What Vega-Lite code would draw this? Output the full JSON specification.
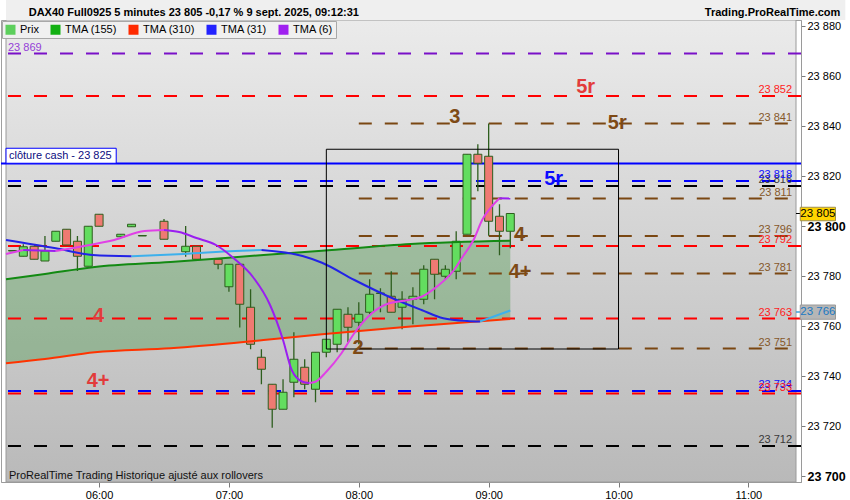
{
  "$schema": "https://vega.github.io/schema/vega-lite/v6.json",
  "width": 800,
  "height": 462,
  "padding": 0,
  "background": "#ffffff",
  "config": {
    "font": "Liberation Sans",
    "view": {"stroke": "#a0a0a0"},
    "axis": {"title": null, "grid": false, "labelFont": "Liberation Sans", "labelColor": "#000000", "domainColor": "#9a9a9a", "tickColor": "#7a7a7a"}
  },
  "datasets": {
    "bougies": [
      {"t": "2025-09-09T05:20", "o": 23790.2, "h": 23790.2, "l": 23790.0, "c": 23790.0},
      {"t": "2025-09-09T05:25", "o": 23787.9, "h": 23792.7, "l": 23787.9, "c": 23791.7},
      {"t": "2025-09-09T05:30", "o": 23791.9, "h": 23791.9, "l": 23786.7, "c": 23786.7},
      {"t": "2025-09-09T05:35", "o": 23786.0, "h": 23796.0, "l": 23786.0, "c": 23790.0},
      {"t": "2025-09-09T05:40", "o": 23793.9, "h": 23797.9, "l": 23793.9, "c": 23797.9},
      {"t": "2025-09-09T05:45", "o": 23798.7, "h": 23798.7, "l": 23792.4, "c": 23792.4},
      {"t": "2025-09-09T05:50", "o": 23793.9, "h": 23796.0, "l": 23782.0, "c": 23787.9},
      {"t": "2025-09-09T05:55", "o": 23783.9, "h": 23799.9, "l": 23783.9, "c": 23799.9},
      {"t": "2025-09-09T06:00", "o": 23804.7, "h": 23804.7, "l": 23799.9, "c": 23799.9},
      {"t": "2025-09-09T06:10", "o": 23795.7, "h": 23796.7, "l": 23795.7, "c": 23796.7},
      {"t": "2025-09-09T06:15", "o": 23799.7, "h": 23800.7, "l": 23799.7, "c": 23800.7},
      {"t": "2025-09-09T06:20", "o": 23796.2, "h": 23796.2, "l": 23796.0, "c": 23796.0},
      {"t": "2025-09-09T06:30", "o": 23801.9, "h": 23802.8, "l": 23794.7, "c": 23794.7},
      {"t": "2025-09-09T06:40", "o": 23789.7, "h": 23800.0, "l": 23787.7, "c": 23791.9},
      {"t": "2025-09-09T06:45", "o": 23791.9, "h": 23791.9, "l": 23786.7, "c": 23786.7},
      {"t": "2025-09-09T06:55", "o": 23786.7, "h": 23786.7, "l": 23782.7, "c": 23784.7},
      {"t": "2025-09-09T07:00", "o": 23775.7, "h": 23784.7, "l": 23773.7, "c": 23784.7},
      {"t": "2025-09-09T07:05", "o": 23784.7, "h": 23784.7, "l": 23759.4, "c": 23768.7},
      {"t": "2025-09-09T07:10", "o": 23767.5, "h": 23774.7, "l": 23750.7, "c": 23752.7},
      {"t": "2025-09-09T07:15", "o": 23747.5, "h": 23750.7, "l": 23736.7, "c": 23742.7},
      {"t": "2025-09-09T07:20", "o": 23736.7, "h": 23736.7, "l": 23719.3, "c": 23726.7},
      {"t": "2025-09-09T07:25", "o": 23726.7, "h": 23738.7, "l": 23726.7, "c": 23733.5},
      {"t": "2025-09-09T07:30", "o": 23737.5, "h": 23757.5, "l": 23731.5, "c": 23746.7},
      {"t": "2025-09-09T07:35", "o": 23743.5, "h": 23746.7, "l": 23734.7, "c": 23736.7},
      {"t": "2025-09-09T07:40", "o": 23734.7, "h": 23749.5, "l": 23729.5, "c": 23749.5},
      {"t": "2025-09-09T07:45", "o": 23749.5, "h": 23754.7, "l": 23747.5, "c": 23754.7},
      {"t": "2025-09-09T07:50", "o": 23752.7, "h": 23766.7, "l": 23749.5, "c": 23766.7},
      {"t": "2025-09-09T07:55", "o": 23764.7, "h": 23767.5, "l": 23753.5, "c": 23759.5},
      {"t": "2025-09-09T08:00", "o": 23761.5, "h": 23769.5, "l": 23752.7, "c": 23764.7},
      {"t": "2025-09-09T08:05", "o": 23765.5, "h": 23778.7, "l": 23764.7, "c": 23772.7},
      {"t": "2025-09-09T08:10", "o": 23773.2, "h": 23775.1, "l": 23765.5, "c": 23773.0},
      {"t": "2025-09-09T08:15", "o": 23771.9, "h": 23781.9, "l": 23765.5, "c": 23765.5},
      {"t": "2025-09-09T08:20", "o": 23767.5, "h": 23773.9, "l": 23758.7, "c": 23770.7},
      {"t": "2025-09-09T08:25", "o": 23770.7, "h": 23775.5, "l": 23760.7, "c": 23771.9},
      {"t": "2025-09-09T08:30", "o": 23770.7, "h": 23784.3, "l": 23768.7, "c": 23782.7},
      {"t": "2025-09-09T08:35", "o": 23786.7, "h": 23786.7, "l": 23770.7, "c": 23780.7},
      {"t": "2025-09-09T08:40", "o": 23779.9, "h": 23784.3, "l": 23778.7, "c": 23782.7},
      {"t": "2025-09-09T08:45", "o": 23781.9, "h": 23797.9, "l": 23778.7, "c": 23793.9},
      {"t": "2025-09-09T08:50", "o": 23796.7, "h": 23828.7, "l": 23796.7, "c": 23828.7},
      {"t": "2025-09-09T08:55", "o": 23828.7, "h": 23832.7, "l": 23813.9, "c": 23825.1},
      {"t": "2025-09-09T09:00", "o": 23827.9, "h": 23841.0, "l": 23796.1, "c": 23801.9},
      {"t": "2025-09-09T09:05", "o": 23803.9, "h": 23808.7, "l": 23788.3, "c": 23797.9},
      {"t": "2025-09-09T09:10", "o": 23797.9, "h": 23805.0, "l": 23791.1, "c": 23805.0}
    ],
    "moy": [
      {"t": "2025-09-09T05:17", "m155": 23778.7, "m310": 23745.1},
      {"t": "2025-09-09T05:35", "m155": 23780.8, "m310": 23746.8},
      {"t": "2025-09-09T05:58", "m155": 23783.6, "m310": 23749.5},
      {"t": "2025-09-09T06:33", "m155": 23785.6, "m310": 23751.1},
      {"t": "2025-09-09T07:16", "m155": 23788.4, "m310": 23754.4},
      {"t": "2025-09-09T07:43", "m155": 23790.1, "m310": 23756.7},
      {"t": "2025-09-09T08:24", "m155": 23792.8, "m310": 23759.8},
      {"t": "2025-09-09T09:10", "m155": 23794.1, "m310": 23762.8}
    ],
    "m31": [
      {"t": "2025-09-09T05:17", "v": 23794.4, "seg": "a", "sens": "baisse"},
      {"t": "2025-09-09T05:40", "v": 23791.1, "seg": "a", "sens": "baisse"},
      {"t": "2025-09-09T05:57", "v": 23788.4, "seg": "a", "sens": "baisse"},
      {"t": "2025-09-09T06:15", "v": 23787.9, "seg": "a", "sens": "baisse"},
      {"t": "2025-09-09T06:15", "v": 23787.9, "seg": "b", "sens": "hausse"},
      {"t": "2025-09-09T06:39", "v": 23788.8, "seg": "b", "sens": "hausse"},
      {"t": "2025-09-09T07:03", "v": 23790.0, "seg": "b", "sens": "hausse"},
      {"t": "2025-09-09T07:15", "v": 23790.4, "seg": "b", "sens": "hausse"},
      {"t": "2025-09-09T07:15", "v": 23790.4, "seg": "c", "sens": "baisse"},
      {"t": "2025-09-09T07:34", "v": 23788.0, "seg": "c", "sens": "baisse"},
      {"t": "2025-09-09T07:43", "v": 23785.3, "seg": "c", "sens": "baisse"},
      {"t": "2025-09-09T07:58", "v": 23778.4, "seg": "c", "sens": "baisse"},
      {"t": "2025-09-09T08:14", "v": 23771.7, "seg": "c", "sens": "baisse"},
      {"t": "2025-09-09T08:29", "v": 23766.4, "seg": "c", "sens": "baisse"},
      {"t": "2025-09-09T08:39", "v": 23763.1, "seg": "c", "sens": "baisse"},
      {"t": "2025-09-09T08:50", "v": 23762.0, "seg": "c", "sens": "baisse"},
      {"t": "2025-09-09T08:56", "v": 23761.8, "seg": "c", "sens": "baisse"},
      {"t": "2025-09-09T08:56", "v": 23761.8, "seg": "d", "sens": "hausse"},
      {"t": "2025-09-09T09:10", "v": 23766.2, "seg": "d", "sens": "hausse"}
    ],
    "m6": [
      {"t": "2025-09-09T05:17", "v": 23788.8, "seg": "a", "sens": "hausse"},
      {"t": "2025-09-09T05:25", "v": 23790.4, "seg": "a", "sens": "hausse"},
      {"t": "2025-09-09T05:25", "v": 23790.4, "seg": "b", "sens": "baisse"},
      {"t": "2025-09-09T05:40", "v": 23790.0, "seg": "b", "sens": "baisse"},
      {"t": "2025-09-09T05:40", "v": 23790.0, "seg": "c", "sens": "hausse"},
      {"t": "2025-09-09T05:53", "v": 23792.0, "seg": "c", "sens": "hausse"},
      {"t": "2025-09-09T06:07", "v": 23794.4, "seg": "c", "sens": "hausse"},
      {"t": "2025-09-09T06:21", "v": 23798.0, "seg": "c", "sens": "hausse"},
      {"t": "2025-09-09T06:30", "v": 23798.4, "seg": "c", "sens": "hausse"},
      {"t": "2025-09-09T06:30", "v": 23798.4, "seg": "d", "sens": "baisse"},
      {"t": "2025-09-09T06:37", "v": 23797.6, "seg": "d", "sens": "baisse"},
      {"t": "2025-09-09T06:45", "v": 23795.2, "seg": "d", "sens": "baisse"},
      {"t": "2025-09-09T06:54", "v": 23792.4, "seg": "d", "sens": "baisse"},
      {"t": "2025-09-09T07:03", "v": 23786.5, "seg": "d", "sens": "baisse"},
      {"t": "2025-09-09T07:11", "v": 23779.7, "seg": "d", "sens": "baisse"},
      {"t": "2025-09-09T07:19", "v": 23768.4, "seg": "d", "sens": "baisse"},
      {"t": "2025-09-09T07:25", "v": 23754.4, "seg": "d", "sens": "baisse"},
      {"t": "2025-09-09T07:29", "v": 23742.4, "seg": "d", "sens": "baisse"},
      {"t": "2025-09-09T07:34", "v": 23737.7, "seg": "d", "sens": "baisse"},
      {"t": "2025-09-09T07:37", "v": 23737.2, "seg": "d", "sens": "baisse"},
      {"t": "2025-09-09T07:37", "v": 23737.2, "seg": "e", "sens": "hausse"},
      {"t": "2025-09-09T07:40", "v": 23737.7, "seg": "e", "sens": "hausse"},
      {"t": "2025-09-09T07:45", "v": 23741.7, "seg": "e", "sens": "hausse"},
      {"t": "2025-09-09T07:52", "v": 23749.1, "seg": "e", "sens": "hausse"},
      {"t": "2025-09-09T07:58", "v": 23757.2, "seg": "e", "sens": "hausse"},
      {"t": "2025-09-09T08:06", "v": 23765.1, "seg": "e", "sens": "hausse"},
      {"t": "2025-09-09T08:14", "v": 23769.1, "seg": "e", "sens": "hausse"},
      {"t": "2025-09-09T08:23", "v": 23770.4, "seg": "e", "sens": "hausse"},
      {"t": "2025-09-09T08:29", "v": 23771.7, "seg": "e", "sens": "hausse"},
      {"t": "2025-09-09T08:36", "v": 23775.7, "seg": "e", "sens": "hausse"},
      {"t": "2025-09-09T08:44", "v": 23782.4, "seg": "e", "sens": "hausse"},
      {"t": "2025-09-09T08:48", "v": 23787.7, "seg": "e", "sens": "hausse"},
      {"t": "2025-09-09T08:53", "v": 23794.4, "seg": "e", "sens": "hausse"},
      {"t": "2025-09-09T08:57", "v": 23802.4, "seg": "e", "sens": "hausse"},
      {"t": "2025-09-09T09:02", "v": 23808.4, "seg": "e", "sens": "hausse"},
      {"t": "2025-09-09T09:05", "v": 23811.1, "seg": "e", "sens": "hausse"},
      {"t": "2025-09-09T09:05", "v": 23811.1, "seg": "f", "sens": "baisse"},
      {"t": "2025-09-09T09:10", "v": 23811.0, "seg": "f", "sens": "baisse"}
    ],
    "niveaux": [
      {"p": 23869, "serie": "violet"},
      {"p": 23852, "serie": "rouge"},
      {"p": 23841, "serie": "brun"},
      {"p": 23816, "serie": "noir"},
      {"p": 23818, "serie": "bleu"},
      {"p": 23811, "serie": "brun"},
      {"p": 23796, "serie": "brun"},
      {"p": 23792, "serie": "rouge"},
      {"p": 23781, "serie": "brun"},
      {"p": 23763, "serie": "rouge"},
      {"p": 23751, "serie": "brun"},
      {"p": 23734, "serie": "bleu"},
      {"p": 23733, "serie": "rouge"},
      {"p": 23712, "serie": "noir"}
    ],
    "notes": [
      {"t": "2025-09-09T09:44:48", "p": 23855.6, "label": "5r", "serie": "rouge"},
      {"t": "2025-09-09T08:44:20", "p": 23843.7, "label": "3", "serie": "brun"},
      {"t": "2025-09-09T09:59:24", "p": 23841.2, "label": "5r", "serie": "brun"},
      {"t": "2025-09-09T09:30:00", "p": 23818.8, "label": "5r", "serie": "bleu"},
      {"t": "2025-09-09T09:14:14", "p": 23796.4, "label": "4", "serie": "brun"},
      {"t": "2025-09-09T09:14:30", "p": 23781.7, "label": "4+", "serie": "brun"},
      {"t": "2025-09-09T07:59:43", "p": 23751.1, "label": "2", "serie": "brun"},
      {"t": "2025-09-09T05:59:44", "p": 23763.9, "label": "4", "serie": "rouge"},
      {"t": "2025-09-09T05:59:33", "p": 23738.2, "label": "4+", "serie": "rouge"}
    ],
    "legende": [
      {"nom": "Prix"}, {"nom": "TMA (155)"}, {"nom": "TMA (310)"}, {"nom": "TMA (31)"}, {"nom": "TMA (6)"}
    ]
  },
  "resolve": {"scale": {"color": "independent"}},
  "layer": [
    {
      "data": {"values": [{}]},
      "mark": {"type": "rect", "stroke": "#9a9a9a", "strokeWidth": 1, "color": {"gradient": "linear", "x1": 0, "y1": 0, "x2": 0, "y2": 1, "stops": [{"offset": 0, "color": "#ebebeb"}, {"offset": 1, "color": "#b9b9b9"}]}},
      "encoding": {
        "x": {
          "datum": {"year": 2025, "month": 9, "date": 9, "hours": 5, "minutes": 17},
          "type": "temporal",
          "scale": {"domain": [{"year": 2025, "month": 9, "date": 9, "hours": 5, "minutes": 17}, {"year": 2025, "month": 9, "date": 9, "hours": 11, "minutes": 22}], "nice": false},
          "axis": {
            "orient": "bottom",
            "values": [
              {"year": 2025, "month": 9, "date": 9, "hours": 6, "minutes": 0},
              {"year": 2025, "month": 9, "date": 9, "hours": 7, "minutes": 0},
              {"year": 2025, "month": 9, "date": 9, "hours": 8, "minutes": 0},
              {"year": 2025, "month": 9, "date": 9, "hours": 9, "minutes": 0},
              {"year": 2025, "month": 9, "date": 9, "hours": 10, "minutes": 0},
              {"year": 2025, "month": 9, "date": 9, "hours": 11, "minutes": 0}
            ],
            "format": "%H:%M",
            "labelFontSize": 11,
            "tickSize": 5,
            "labelPadding": 2
          }
        },
        "x2": {"datum": {"year": 2025, "month": 9, "date": 9, "hours": 11, "minutes": 22}},
        "y": {
          "datum": 23697.6,
          "type": "quantitative",
          "scale": {"domain": [23697.6, 23882.4], "nice": false, "zero": false},
          "axis": {
            "orient": "right",
            "values": [23700, 23710, 23720, 23730, 23740, 23750, 23760, 23770, 23780, 23790, 23800, 23810, 23820, 23830, 23840, 23850, 23860, 23870, 23880],
            "labelExpr": "datum.value % 20 === 0 ? replace(format(datum.value, ','), ',', ' ') : ''",
            "labelFontSize": {"condition": {"test": "datum.value % 100 === 0", "value": 12.5}, "value": 11},
            "labelFontWeight": {"condition": {"test": "datum.value % 100 === 0", "value": "bold"}, "value": "normal"},
            "labelOverlap": false,
            "tickSize": 4,
            "labelPadding": 2
          }
        },
        "y2": {"datum": 23882.4}
      }
    },
    {
      "data": {"values": [{}]},
      "mark": {"type": "rect", "color": "#efefef"},
      "encoding": {
        "x": {"datum": {"year": 2025, "month": 9, "date": 9, "hours": 5, "minutes": 17}, "type": "temporal"},
        "x2": {"datum": {"year": 2025, "month": 9, "date": 9, "hours": 11, "minutes": 44, "seconds": 48}},
        "y": {"datum": 23882.4, "type": "quantitative"},
        "y2": {"datum": 23890.4}
      }
    },
    {
      "data": {"name": "moy"},
      "mark": {"type": "area", "color": "#2e8b2e", "opacity": 0.32, "interpolate": "monotone"},
      "encoding": {
        "x": {"field": "t", "type": "temporal"},
        "y": {"field": "m155", "type": "quantitative"},
        "y2": {"field": "m310"}
      }
    },
    {
      "data": {"name": "niveaux"},
      "transform": [{"filter": "datum.serie != 'brun'"}],
      "mark": {"type": "rule", "strokeWidth": 2, "strokeDash": [13, 13]},
      "encoding": {
        "y": {"field": "p", "type": "quantitative"},
        "color": {"field": "serie", "type": "nominal", "legend": null, "scale": {"domain": ["violet", "rouge", "brun", "bleu", "noir"], "range": ["#7a10c8", "#ff0000", "#7a4712", "#0000ff", "#000000"]}}
      }
    },
    {
      "data": {"name": "niveaux"},
      "transform": [{"filter": "datum.serie == 'brun'"}],
      "mark": {"type": "rule", "strokeWidth": 2, "strokeDash": [13, 13], "color": "#7a4712"},
      "encoding": {
        "x": {"datum": {"year": 2025, "month": 9, "date": 9, "hours": 8, "minutes": 0}, "type": "temporal"},
        "x2": {"datum": {"year": 2025, "month": 9, "date": 9, "hours": 11, "minutes": 22}},
        "y": {"field": "p", "type": "quantitative"}
      }
    },
    {
      "data": {"values": [{}]},
      "mark": {"type": "rule", "strokeWidth": 2, "color": "#0000ff"},
      "encoding": {"y": {"datum": 23825, "type": "quantitative"}}
    },
    {
      "data": {"name": "bougies"},
      "mark": {"type": "rule", "color": "#2e5e1e", "strokeWidth": 1.3},
      "encoding": {
        "x": {"field": "t", "type": "temporal"},
        "y": {"field": "l", "type": "quantitative"},
        "y2": {"field": "h"}
      }
    },
    {
      "data": {"name": "bougies"},
      "mark": {"type": "bar", "width": 8, "stroke": "#2e5e1e", "strokeWidth": 1},
      "encoding": {
        "x": {"field": "t", "type": "temporal"},
        "y": {"field": "o", "type": "quantitative"},
        "y2": {"field": "c"},
        "color": {"condition": {"test": "datum.c > datum.o", "value": "#63dd5f"}, "value": "#ef7a72"}
      }
    },
    {
      "data": {"name": "moy"},
      "mark": {"type": "line", "color": "#138a13", "strokeWidth": 2, "interpolate": "monotone"},
      "encoding": {
        "x": {"field": "t", "type": "temporal"},
        "y": {"field": "m155", "type": "quantitative"}
      }
    },
    {
      "data": {"name": "moy"},
      "mark": {"type": "line", "color": "#ff3300", "strokeWidth": 2, "interpolate": "monotone"},
      "encoding": {
        "x": {"field": "t", "type": "temporal"},
        "y": {"field": "m310", "type": "quantitative"}
      }
    },
    {
      "data": {"name": "m31"},
      "mark": {"type": "line", "strokeWidth": 2, "interpolate": "monotone"},
      "encoding": {
        "x": {"field": "t", "type": "temporal"},
        "y": {"field": "v", "type": "quantitative"},
        "detail": {"field": "seg"},
        "color": {"field": "sens", "type": "nominal", "legend": null, "scale": {"domain": ["baisse", "hausse"], "range": ["#2323e6", "#3cb0ec"]}}
      }
    },
    {
      "data": {"name": "m6"},
      "mark": {"type": "line", "strokeWidth": 2, "interpolate": "monotone"},
      "encoding": {
        "x": {"field": "t", "type": "temporal"},
        "y": {"field": "v", "type": "quantitative"},
        "detail": {"field": "seg"},
        "color": {"field": "sens", "type": "nominal", "legend": null, "scale": {"domain": ["baisse", "hausse"], "range": ["#9a1ef0", "#e040e6"]}}
      }
    },
    {
      "data": {"values": [{}]},
      "mark": {"type": "rect", "fillOpacity": 0, "stroke": "#000000", "strokeWidth": 1},
      "encoding": {
        "x": {"datum": {"year": 2025, "month": 9, "date": 9, "hours": 7, "minutes": 45}, "type": "temporal"},
        "x2": {"datum": {"year": 2025, "month": 9, "date": 9, "hours": 10, "minutes": 0}},
        "y": {"datum": 23750.8, "type": "quantitative"},
        "y2": {"datum": 23830.7}
      }
    },
    {
      "data": {"name": "notes"},
      "mark": {"type": "text", "fontSize": 20, "fontWeight": "bold", "align": "center", "baseline": "middle"},
      "encoding": {
        "x": {"field": "t", "type": "temporal"},
        "y": {"field": "p", "type": "quantitative"},
        "text": {"field": "label"},
        "color": {"field": "serie", "type": "nominal", "legend": null, "scale": {"domain": ["rouge", "brun", "bleu"], "range": ["#e23b3b", "#7e4a16", "#0a0aff"]}}
      }
    },
    {
      "data": {"name": "niveaux"},
      "transform": [
        {"filter": "datum.serie != 'violet'"},
        {"calculate": "replace(format(datum.p, ','), ',', ' ')", "as": "lab"}
      ],
      "mark": {"type": "text", "fontSize": 11, "align": "right", "baseline": "bottom", "dy": -1},
      "encoding": {
        "x": {"datum": {"year": 2025, "month": 9, "date": 9, "hours": 11, "minutes": 20, "seconds": 10}, "type": "temporal"},
        "y": {"field": "p", "type": "quantitative"},
        "text": {"field": "lab"},
        "color": {"field": "serie", "type": "nominal", "legend": null, "scale": {"domain": ["rouge", "brun", "bleu", "noir"], "range": ["#ff1c1c", "#86582a", "#1010ff", "#3a3a3a"]}}
      }
    },
    {
      "data": {"name": "niveaux"},
      "transform": [
        {"filter": "datum.serie == 'violet'"},
        {"calculate": "replace(format(datum.p, ','), ',', ' ')", "as": "lab"}
      ],
      "mark": {"type": "text", "fontSize": 11, "align": "left", "baseline": "bottom", "dy": -1, "dx": 2, "color": "#9440d8"},
      "encoding": {
        "x": {"datum": {"year": 2025, "month": 9, "date": 9, "hours": 5, "minutes": 17}, "type": "temporal"},
        "y": {"field": "p", "type": "quantitative"},
        "text": {"field": "lab"}
      }
    },
    {
      "data": {"values": [{}]},
      "mark": {"type": "rect", "color": "#ffffff", "stroke": "#0000ff", "strokeWidth": 1},
      "encoding": {
        "x": {"datum": {"year": 2025, "month": 9, "date": 9, "hours": 5, "minutes": 17}, "type": "temporal"},
        "x2": {"datum": {"year": 2025, "month": 9, "date": 9, "hours": 6, "minutes": 7, "seconds": 55}},
        "y": {"datum": 23825.1, "type": "quantitative"},
        "y2": {"datum": 23831.1}
      }
    },
    {
      "data": {"values": [{"txt": "clôture cash -  23 825"}]},
      "mark": {"type": "text", "fontSize": 11, "align": "left", "baseline": "middle", "dx": 3, "color": "#0c0c80"},
      "encoding": {
        "x": {"datum": {"year": 2025, "month": 9, "date": 9, "hours": 5, "minutes": 17}, "type": "temporal"},
        "y": {"datum": 23828.1, "type": "quantitative"},
        "text": {"field": "txt"}
      }
    },
    {
      "data": {"values": [{}]},
      "mark": {"type": "rule", "color": "#000000", "strokeWidth": 1},
      "encoding": {
        "x": {"datum": {"year": 2025, "month": 9, "date": 9, "hours": 11, "minutes": 22}, "type": "temporal"},
        "x2": {"datum": {"year": 2025, "month": 9, "date": 9, "hours": 11, "minutes": 24}},
        "y": {"datum": 23805, "type": "quantitative"}
      }
    },
    {
      "data": {"values": [{}]},
      "mark": {"type": "rect", "color": "#ffd400", "stroke": "#a09050", "strokeWidth": 1},
      "encoding": {
        "x": {"datum": {"year": 2025, "month": 9, "date": 9, "hours": 11, "minutes": 23, "seconds": 58}, "type": "temporal"},
        "x2": {"datum": {"year": 2025, "month": 9, "date": 9, "hours": 11, "minutes": 40, "seconds": 15}},
        "y": {"datum": 23802.1, "type": "quantitative"},
        "y2": {"datum": 23807.5}
      }
    },
    {
      "data": {"values": [{"txt": "23 805"}]},
      "mark": {"type": "text", "fontSize": 11.5, "align": "center", "baseline": "middle", "color": "#000000"},
      "encoding": {
        "x": {"datum": {"year": 2025, "month": 9, "date": 9, "hours": 11, "minutes": 32, "seconds": 6}, "type": "temporal"},
        "y": {"datum": 23804.8, "type": "quantitative"},
        "text": {"field": "txt"}
      }
    },
    {
      "data": {"values": [{}]},
      "mark": {"type": "rule", "color": "#3ca0dc", "strokeWidth": 1.5},
      "encoding": {
        "x": {"datum": {"year": 2025, "month": 9, "date": 9, "hours": 11, "minutes": 22}, "type": "temporal"},
        "x2": {"datum": {"year": 2025, "month": 9, "date": 9, "hours": 11, "minutes": 24}},
        "y": {"datum": 23765.6, "type": "quantitative"}
      }
    },
    {
      "data": {"values": [{}]},
      "mark": {"type": "rect", "color": "#b6b6b6", "stroke": "#9a9a9a", "strokeWidth": 1},
      "encoding": {
        "x": {"datum": {"year": 2025, "month": 9, "date": 9, "hours": 11, "minutes": 23, "seconds": 58}, "type": "temporal"},
        "x2": {"datum": {"year": 2025, "month": 9, "date": 9, "hours": 11, "minutes": 40, "seconds": 15}},
        "y": {"datum": 23762.7, "type": "quantitative"},
        "y2": {"datum": 23768.4}
      }
    },
    {
      "data": {"values": [{"txt": "23 766"}]},
      "mark": {"type": "text", "fontSize": 11.5, "align": "center", "baseline": "middle", "color": "#1a78c2"},
      "encoding": {
        "x": {"datum": {"year": 2025, "month": 9, "date": 9, "hours": 11, "minutes": 32, "seconds": 6}, "type": "temporal"},
        "y": {"datum": 23765.6, "type": "quantitative"},
        "text": {"field": "txt"}
      }
    },
    {
      "data": {"values": [{"txt": "DAX40 Full0925 5 minutes 23 805 -0,17 % 9 sept. 2025, 09:12:31"}]},
      "mark": {"type": "text", "fontSize": 11, "fontWeight": "bold", "align": "left", "baseline": "middle", "color": "#000000"},
      "encoding": {
        "x": {"datum": {"year": 2025, "month": 9, "date": 9, "hours": 5, "minutes": 27, "seconds": 30}, "type": "temporal"},
        "y": {"datum": 23885.4, "type": "quantitative"},
        "text": {"field": "txt"}
      }
    },
    {
      "data": {"values": [{"txt": "Trading.ProRealTime.com"}]},
      "mark": {"type": "text", "fontSize": 11, "fontWeight": "bold", "align": "right", "baseline": "middle", "color": "#000000"},
      "encoding": {
        "x": {"datum": {"year": 2025, "month": 9, "date": 9, "hours": 11, "minutes": 42, "seconds": 30}, "type": "temporal"},
        "y": {"datum": 23885.4, "type": "quantitative"},
        "text": {"field": "txt"}
      }
    },
    {
      "data": {"values": [{"txt": "ProRealTime Trading  Historique ajusté aux rollovers"}]},
      "mark": {"type": "text", "fontSize": 11, "align": "left", "baseline": "middle", "dx": 3, "color": "#111111"},
      "encoding": {
        "x": {"datum": {"year": 2025, "month": 9, "date": 9, "hours": 5, "minutes": 17}, "type": "temporal"},
        "y": {"datum": 23700.0, "type": "quantitative"},
        "text": {"field": "txt"}
      }
    },
    {
      "data": {"name": "legende"},
      "mark": {"type": "point", "filled": true, "opacity": 0},
      "encoding": {
        "x": {"datum": {"year": 2025, "month": 9, "date": 9, "hours": 6, "minutes": 0}, "type": "temporal"},
        "y": {"datum": 23800, "type": "quantitative"},
        "color": {
          "field": "nom",
          "type": "nominal",
          "scale": {"domain": ["Prix", "TMA (155)", "TMA (310)", "TMA (31)", "TMA (6)"], "range": ["#5ccf5c", "#12b012", "#ff2a00", "#2222ff", "#a020f0"]},
          "legend": {
            "orient": "top-left",
            "offset": 1,
            "direction": "horizontal",
            "title": null,
            "fillColor": "#f0f0f0",
            "strokeColor": "#a8a8a8",
            "padding": 3,
            "symbolType": "square",
            "symbolSize": 100,
            "symbolOpacity": 1,
            "symbolStrokeWidth": 0,
            "labelFont": "Liberation Sans",
            "labelFontSize": 11,
            "labelColor": "#000000",
            "labelOffset": 4,
            "columnPadding": 11
          }
        }
      }
    }
  ]
}
